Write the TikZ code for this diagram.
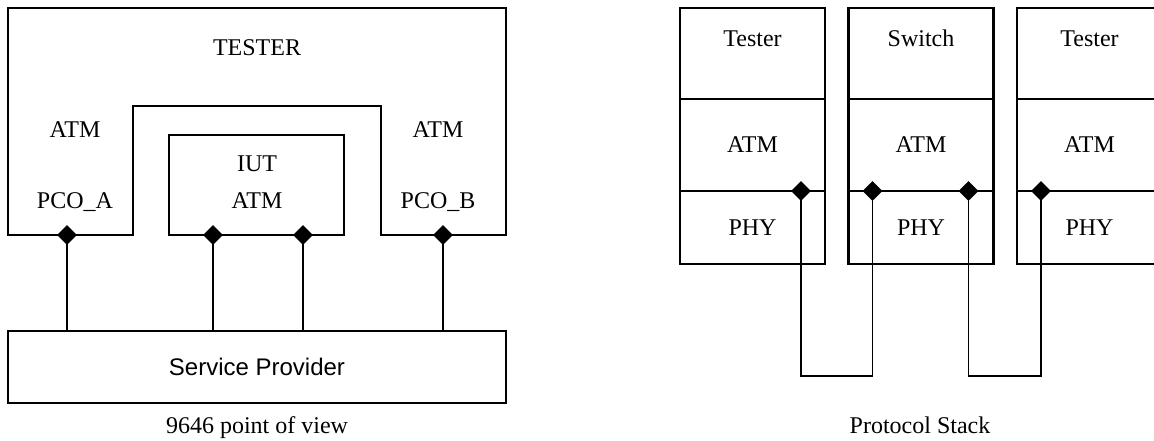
\documentclass[tikz,border=0pt]{standalone}
\usepackage{fontspec}
\setmainfont{Liberation Serif}
\setsansfont{Liberation Sans}
\usetikzlibrary{shapes.geometric,calc}

\begin{document}
\begin{tikzpicture}[x=1pt,y=-1pt,
    txt/.style={font=\fontsize{24}{28}\selectfont,anchor=base,inner sep=0pt},
    box/.style={draw,line width=2.4pt,inner sep=0pt,outer sep=0pt,anchor=north west,
                font=\fontsize{24}{28}\selectfont},
    port/.style={diamond,fill=black,inner sep=0pt,minimum size=20pt},
    wire/.style={line width=1.1pt}]

    \clip (0,0) rectangle (1154,440);
    \useasboundingbox (0,0) rectangle (1154,440);

    % 9646 point of view
    \draw[line width=2.4pt] (8,8) -- (506,8) -- (506,235) -- (381,235) -- (381,106)
        -- (133,106) -- (133,235) -- (8,235) -- cycle; % tester
    \node[txt] (tester) at (257,55) {TESTER};
    \node[txt] (atmA) at (75,137) {ATM};
    \node[txt] (pcoA) at (75,208) {PCO\_A};
    \node[txt] (atmB) at (438,137) {ATM};
    \node[txt] (pcoB) at (438,208) {PCO\_B};

    \node[box,minimum width=175,minimum height=100] (iut) at (169,135) {};
    \node[txt] (iutname) at (257,171) {IUT};
    \node[txt] (iutatm) at (257,208) {ATM};

    \node[box,minimum width=498,minimum height=72,font=\sffamily\fontsize{24}{28}\selectfont]
        (sp) at (8,331) {Service Provider};
    \node[txt] (capL) at (257,433) {9646 point of view};

    \node[port] (pA) at (67,235) {};
    \node[port] (pI1) at (213,235) {};
    \node[port] (pI2) at (303,235) {};
    \node[port] (pB) at (443,235) {};

    \foreach \p in {pA,pI1,pI2,pB}
        \draw[wire] (\p.center) -- (\p.center |- sp.north);

    % protocol stack
    \foreach \x/\nm/\i in {680/Tester/1,848.5/Switch/2,1017/Tester/3} {
        \node[box,minimum width=145,minimum height=91] (top\i) at (\x,8) {};
        \node[txt] (name\i) at (\x+72.5,46) {\nm};
        \node[box,minimum width=145,minimum height=92] (atm\i) at (\x,99) {ATM};
        \node[box,minimum width=145,minimum height=73] (phy\i) at (\x,191) {PHY};
    }

    \node[port] (s1) at ($(atm1.south west)+(121,0)$) {};
    \node[port] (s2) at ($(atm2.south west)+(24,0)$) {};
    \node[port] (s3) at ($(atm2.south west)+(120,0)$) {};
    \node[port] (s4) at ($(atm3.south west)+(24,0)$) {};

    \draw[wire] (s1.center) -- ++(0,185) -| (s2.center);
    \draw[wire] (s3.center) -- ++(0,185) -| (s4.center);

    \node[txt] (capR) at (920,433) {Protocol Stack};

\end{tikzpicture}
\end{document}
